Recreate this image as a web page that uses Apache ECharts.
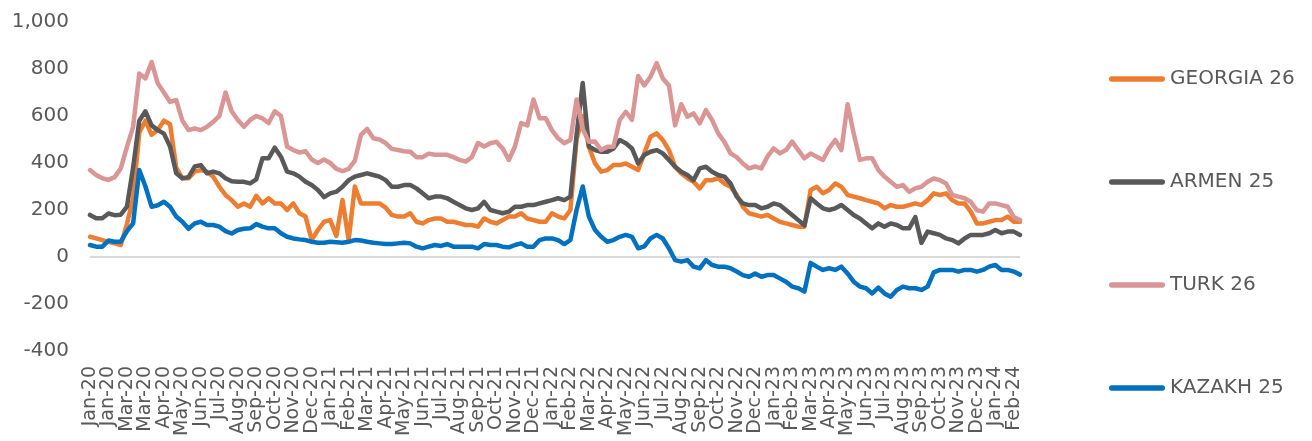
<!DOCTYPE html>
<html>
<head>
<meta charset="utf-8">
<script src="https://cdn.jsdelivr.net/npm/echarts@6/dist/echarts.min.js"></script>
<style>
  html, body { margin: 0; padding: 0; background: #fff; }
  #main { width: 1312px; height: 441px; }
</style>
</head>
<body>
<div id="main"></div>
<script>
// sample every 10 days from 1 Jan 2020, a label every 3rd point (30 days)
var startDate = Date.UTC(2020, 0, 1);
var stepDays = 10;
var pointCount = 152;
var labelEvery = 3;
var monthNames = ['Jan', 'Feb', 'Mar', 'Apr', 'May', 'Jun', 'Jul', 'Aug', 'Sep', 'Oct', 'Nov', 'Dec'];

var yTicks = [-400, -200, 0, 200, 400, 600, 800, 1000];

var georgia26 = [
  86, 79, 72, 65, 58, 51, 140, 250, 530, 580, 520, 540, 580, 565, 380, 335, 335, 363, 370, 363, 342, 299, 264, 242, 214, 228,
  214, 260, 228, 250, 228, 228, 200, 228, 186, 172, 72, 115, 150, 157, 90, 242, 72, 300, 228, 228, 228, 228, 210, 179, 172, 172,
  186, 150, 143, 157, 164, 164, 150, 150, 143, 136, 136, 129, 164, 150, 143, 157, 172, 172, 186, 164, 157, 150, 150, 186, 172, 164,
  200, 500, 600, 469, 398, 363, 370, 391, 391, 398, 384, 370, 441, 512, 526, 498, 455, 384, 356, 335, 320, 292, 327, 327, 335,
  313, 299, 264, 214, 186, 179, 172, 179, 164, 150, 143, 136, 129, 129, 285, 299, 271, 285, 313, 299, 264, 257, 250, 242, 235, 228,
  207, 221, 214, 214, 221, 228, 221, 242, 271, 264, 271, 242, 228, 228, 193, 143, 143, 150, 157, 157, 172, 150, 150
];

var armen25 = [
  179, 165, 165, 185, 178, 180, 214, 380, 580, 620, 560, 540, 525, 470, 356, 335, 340, 385, 391, 356, 363, 356, 335, 322, 320, 320,
  313, 330, 420, 420, 465, 427, 363, 356, 342, 320, 306, 285, 255, 271, 278, 299, 327, 342, 349, 356, 349, 342, 327, 299, 299, 306,
  306, 292, 271, 250, 257, 257, 250, 235, 221, 207, 200, 207, 235, 200, 193, 186, 193, 214, 214, 221, 221, 228, 235, 242, 250, 242,
  257, 520, 740, 470, 455, 448, 448, 462, 498, 484, 462, 398, 434, 448, 455, 441, 413, 384, 363, 349, 327, 377, 384, 363, 349,
  342, 313, 257, 228, 221, 221, 207, 214, 228, 221, 200, 179, 157, 135, 250, 228, 207, 200, 207, 221, 200, 179, 164, 143, 122, 143,
  129, 143, 136, 122, 122, 170, 60, 108, 101, 94, 79, 72, 58, 79, 94, 94, 94, 101, 115, 101, 108, 108, 94
];

var turk26 = [
  370, 349, 335, 328, 340, 377, 469, 554, 781, 760, 830, 739, 700, 660, 668, 580, 540, 547, 540, 554, 575, 600, 700, 620, 583, 554,
  583, 600, 590, 570, 620, 600, 470, 455, 445, 450, 415, 400, 415, 400, 375, 365, 375, 410, 520, 545, 505, 500, 485, 460, 455, 450,
  448, 425, 425, 440, 435, 435, 435, 425, 413, 406, 425, 485, 470, 484, 490, 462, 413, 470, 570, 560, 670, 590, 590, 540, 505, 484,
  498, 670, 545, 490, 491, 455, 469, 469, 583, 618, 583, 770, 730, 767, 825, 760, 730, 560, 650, 597, 611, 569, 625, 583, 526,
  490, 441, 425, 398, 377, 385, 377, 427, 462, 441, 455, 491, 455, 420, 440, 427, 413, 462, 498, 455, 650, 526, 413, 420, 420, 370,
  342, 320, 299, 306, 278, 292, 299, 320, 334, 327, 313, 264, 257, 250, 235, 199, 193, 228, 228, 221, 214, 170, 157
];

var kazakh25 = [
  51, 44, 44, 70, 65, 65, 110, 143, 370, 300, 214, 220, 235, 214, 172, 150, 120, 143, 150, 136, 136, 129, 110, 100, 115, 120,
  122, 140, 129, 122, 122, 101, 86, 79, 75, 72, 65, 61, 61, 65, 63, 61, 65, 72, 70, 65, 61, 58, 55, 55, 58, 61,
  58, 44, 37, 44, 51, 47, 55, 44, 44, 44, 44, 37, 55, 51, 51, 44, 41, 51, 58, 44, 44, 72, 79, 79, 72, 55,
  72, 200, 300, 172, 115, 86, 65, 72, 86, 94, 86, 37, 45, 79, 94, 79, 37, -13, -20, -13, -41, -48, -13, -34, -41,
  -41, -48, -62, -77, -84, -70, -84, -77, -77, -91, -105, -126, -133, -147, -25, -41, -55, -48, -55, -41, -70, -105, -126, -133, -155, -130,
  -155, -169, -140, -126, -133, -133, -140, -126, -65, -55, -55, -55, -62, -55, -55, -62, -55, -41, -34, -55, -55, -62, -75
];

var categories = [];
for (let i = 0; i < pointCount; i++) {
  let d = new Date(startDate + i * stepDays * 86400000);
  categories.push(monthNames[d.getUTCMonth()] + '-' + String(d.getUTCFullYear()).slice(2));
}

var textColor = '#595959';
var fontName = 'DejaVu Sans';
var legendIcon = 'path://M5,0 H95 A5,5 0 0 1 95,10 H5 A5,5 0 0 1 5,0 Z';

// only the zero line is drawn
var splitColors = yTicks.map(function (v) { return v === 0 ? '#d9d9d9' : 'rgba(0,0,0,0)'; });

function makeSeries(name, data, color) {
  return {
    name: name,
    type: 'line',
    data: data,
    symbol: 'none',
    lineStyle: { color: color, width: 4.5, cap: 'round', join: 'round' },
    itemStyle: { color: color }
  };
}

var myChart = echarts.init(document.getElementById('main'));
myChart.setOption({
  animation: false,
  grid: { left: 90, right: 292, top: 22, bottom: 90 },
  legend: {
    orient: 'vertical',
    left: 1109,
    top: 68,
    padding: 0,
    itemWidth: 56,
    itemHeight: 6,
    itemGap: 81,
    icon: legendIcon,
    textStyle: { color: textColor, fontFamily: fontName, fontSize: 20, lineHeight: 22 },
    data: ['GEORGIA 26', 'ARMEN 25', 'TURK 26', 'KAZAKH 25']
  },
  xAxis: {
    type: 'category',
    data: categories,
    boundaryGap: false,
    axisLine: { show: false },
    axisTick: { show: false },
    axisLabel: {
      interval: 0,
      rotate: 90,
      margin: 15,
      hideOverlap: false,
      color: textColor,
      fontFamily: fontName,
      fontSize: 19,
      lineHeight: 16,
      formatter: function (value, index) {
        return index % labelEvery === 0 ? value : '';
      }
    }
  },
  yAxis: {
    type: 'value',
    min: -400,
    max: 1000,
    interval: 200,
    axisLine: { show: false },
    axisTick: { show: false },
    axisLabel: {
      margin: 21,
      color: textColor,
      fontFamily: fontName,
      fontSize: 20,
      formatter: function (v) { return v.toLocaleString('en-US'); }
    },
    splitLine: { show: true, lineStyle: { color: splitColors, width: 2 } }
  },
  series: [
    makeSeries('GEORGIA 26', georgia26, '#ED7D31'),
    makeSeries('ARMEN 25', armen25, '#595959'),
    makeSeries('TURK 26', turk26, '#D99694'),
    makeSeries('KAZAKH 25', kazakh25, '#0070C0')
  ]
});
</script>
</body>
</html>
